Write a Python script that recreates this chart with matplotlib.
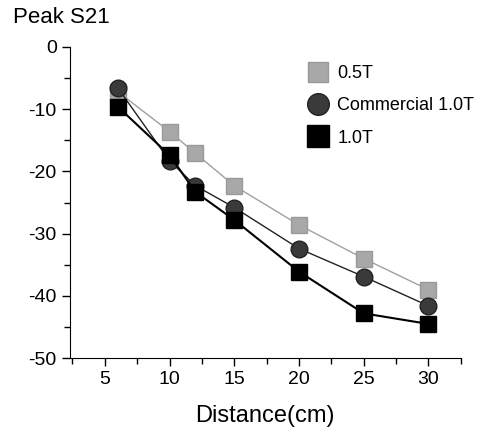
import matplotlib
matplotlib.use("Agg")
import matplotlib.pyplot as plt
from matplotlib.ticker import MultipleLocator

plt.rcParams['font.family'] = ['Liberation Sans', 'DejaVu Sans']
plt.rcParams['axes.unicode_minus'] = False

distance = [6, 10, 12, 15, 20, 25, 30]
s21_05T = [-7.2, -13.6, -17.1, -22.3, -28.6, -34.0, -39.0]
s21_commercial = [-6.6, -18.3, -22.3, -25.8, -32.4, -36.9, -41.6]
s21_10T = [-9.6, -17.4, -23.3, -27.8, -36.1, -42.8, -44.5]
labels = ["0.5T", "Commercial 1.0T", "1.0T"]

fig = plt.figure(figsize=(4.82, 4.30), dpi=100)
ax = fig.add_axes([0.145, 0.167, 0.811, 0.724])

ax.plot(distance, s21_05T, color="#a0a0a0", lw=1.0, marker="s", ms=11,
        mfc="#a8a8a8", mec="#9a9a9a", label=labels[0], zorder=3)
ax.plot(distance, s21_commercial, color="#222222", lw=1.0, marker="o", ms=12,
        mfc="#3a3a3a", mec="#222222", label=labels[1], zorder=4)
ax.plot(distance, s21_10T, color="#000000", lw=1.5, marker="s", ms=12,
        mfc="#000000", mec="#000000", label=labels[2], zorder=5)

ax.set_xlim(2.3, 32.5)
ax.set_ylim(-50, 0)
ax.xaxis.set_major_locator(MultipleLocator(5))
ax.xaxis.set_minor_locator(MultipleLocator(2.5))
ax.yaxis.set_major_locator(MultipleLocator(10))
ax.yaxis.set_minor_locator(MultipleLocator(5))
ax.spines['top'].set_visible(False)
ax.spines['right'].set_visible(False)
ax.tick_params(axis='both', which='major', direction='out', length=6, width=1,
               labelsize=14)
ax.tick_params(axis='both', which='minor', direction='out', length=4, width=1)
ax.set_xlabel("Distance(cm)", fontsize=17, labelpad=12)
fig.text(0.027, 0.935, "Peak S21", fontsize=16, ha="left", va="bottom")

leg = ax.legend(loc="upper left", bbox_to_anchor=(0.615, 0.965), frameon=False,
                fontsize=13, handlelength=0, handletextpad=1.1,
                markerscale=1.3, labelspacing=0.85, borderaxespad=0)
for line in leg.get_lines():
    line.set_linestyle("None")

fig.savefig("out.png", dpi=100)
